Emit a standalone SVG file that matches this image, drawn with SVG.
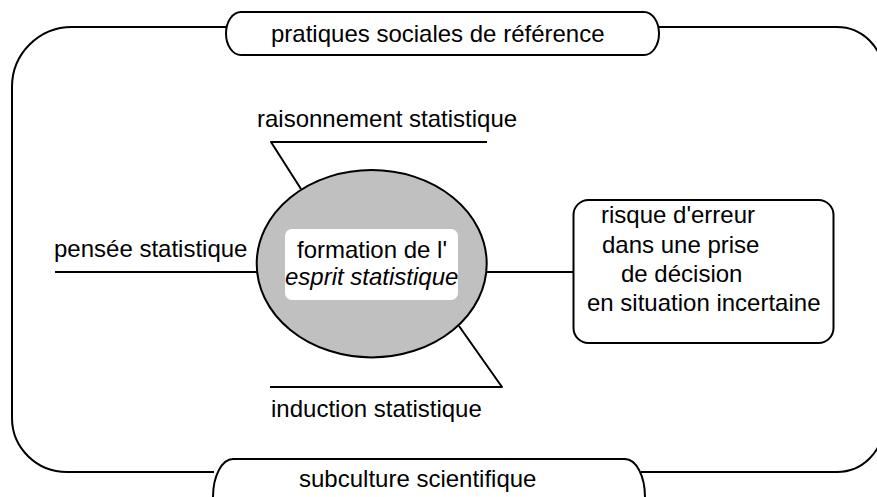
<svg xmlns="http://www.w3.org/2000/svg" width="877" height="497" viewBox="0 0 877 497">
<style>
.ln{fill:none;stroke:#000;stroke-width:2;stroke-linejoin:round}
.t{font-family:"Liberation Sans",Arial,Helvetica,sans-serif;font-size:24px;fill:#000}
.i{font-style:italic}
</style>
<rect width="877" height="497" fill="#fff"/>
<g id="frame">
<path class="ln" d="M227 27 H72 A60 60 0 0 0 12 87 V418 A55 54 0 0 0 67 472 H214"/>
<path class="ln" d="M658 27 H837 A46 46 0 0 1 883 73 V426 A46 46 0 0 1 837 472 H641"/>
</g>
<g id="connectors">
<polyline class="ln" points="487,142 271,142 301,189"/>
<line class="ln" x1="55" y1="272" x2="257" y2="272"/>
<line class="ln" x1="486" y1="272" x2="573" y2="272"/>
<polyline class="ln" points="270,387 502,387 459,326"/>
</g>
<g id="top-label">
<path class="ln" d="M241 12 H644 A15 21.5 0 0 1 644 55 H241 A15 21.5 0 0 1 241 12 Z" fill="#fff"/>
<text class="t" x="271" y="42">pratiques sociales de référence</text>
</g>
<g id="bottom-label">
<path class="ln" d="M233 459 H625 A20 38 0 0 1 625 535 H233 A20 38 0 0 1 233 459 Z" fill="#fff"/>
<text class="t" x="299" y="487">subculture scientifique</text>
</g>
<g id="raisonnement">
<text class="t" x="257" y="127">raisonnement statistique</text>
</g>
<g id="pensee">
<text class="t" x="54" y="257">pensée statistique</text>
</g>
<g id="induction">
<text class="t" x="271" y="417">induction statistique</text>
</g>
<g id="center">
<ellipse cx="371.7" cy="263.7" rx="115" ry="93.7" fill="#c0c0c0" stroke="#000" stroke-width="2"/>
<rect x="285" y="229" width="173" height="71" rx="7" fill="#fff"/>
<text class="t" x="297" y="258">formation de l'</text>
<text class="t i" x="285" y="285">esprit statistique</text>
</g>
<g id="risque">
<rect x="573.5" y="200" width="260" height="143" rx="15" fill="#fff" stroke="#000" stroke-width="2"/>
<text class="t" x="601" y="223">risque d'erreur</text>
<text class="t" x="602" y="253">dans une prise</text>
<text class="t" x="621" y="282">de décision</text>
<text class="t" x="587" y="311">en situation incertaine</text>
</g>
</svg>
